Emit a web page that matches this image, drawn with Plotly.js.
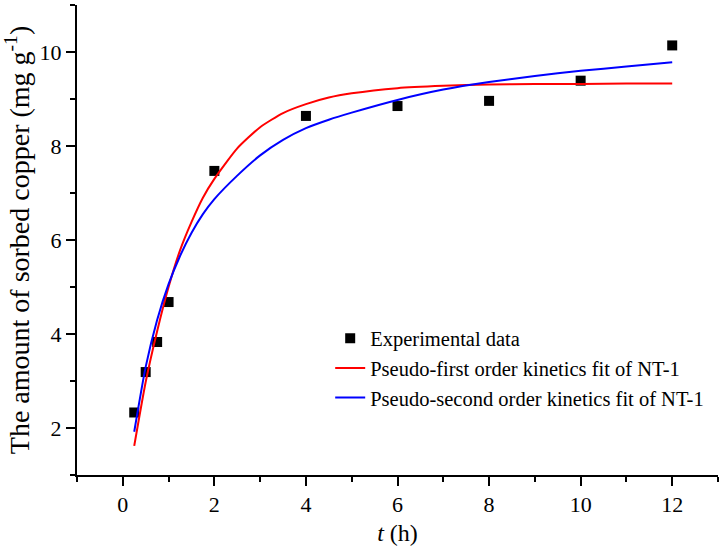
<!DOCTYPE html>
<html>
<head>
<meta charset="utf-8">
<script src="https://cdn.plot.ly/plotly-3.0.1.min.js"></script>
<style>
    html, body { margin: 0; padding: 0; background: #fff; }
    #chart { width: 721px; height: 550px; }
</style>
</head>
<body>
<div id="chart"></div>
<script>
// experimental points
const timeExp = [0.25, 0.5, 0.75, 1, 2, 4, 6, 8, 10, 12];
const qExp = [2.33, 3.19, 3.83, 4.68, 7.47, 8.64, 8.85, 8.96, 9.39, 10.14];

// pseudo-first order fit curve
const timeFirst = [0.25, 0.5, 0.75, 1.0, 1.25, 1.5, 1.75, 2.0, 2.5, 3.0, 3.5, 4.0, 4.5, 5.0, 6.0, 7.0, 8.0, 9.0, 10.0, 11.0, 12.0];
const qFirst = [1.62, 2.98, 4.06, 5.0, 5.78, 6.38, 6.9, 7.3, 7.95, 8.4, 8.7, 8.89, 9.03, 9.12, 9.23, 9.28, 9.31, 9.32, 9.32, 9.33, 9.33];

// pseudo-second order fit curve
const timeSecond = [0.25, 0.5, 0.75, 1.0, 1.25, 1.5, 1.75, 2.0, 2.5, 3.0, 3.5, 4.0, 4.5, 5.0, 6.0, 7.0, 8.0, 9.0, 10.0, 11.0, 12.0];
const qSecond = [1.92, 3.3, 4.3, 5.06, 5.66, 6.15, 6.55, 6.87, 7.37, 7.8, 8.13, 8.38, 8.56, 8.71, 8.98, 9.2, 9.36, 9.49, 9.6, 9.69, 9.78];

const xTicks = [0, 2, 4, 6, 8, 10, 12];
const yTicks = [2, 4, 6, 8, 10];

const serif = 'Liberation Serif, Times New Roman, serif';

const traceExp = {
    x: timeExp,
    y: qExp,
    mode: 'markers',
    name: 'Experimental data',
    marker: {symbol: 'square', size: 10, color: 'black'}
};

const traceFirst = {
    x: timeFirst,
    y: qFirst,
    mode: 'lines',
    name: 'Pseudo-first order kinetics fit of NT-1',
    line: {color: '#ff0000', width: 2, shape: 'spline', smoothing: 0.6}
};

const traceSecond = {
    x: timeSecond,
    y: qSecond,
    mode: 'lines',
    name: 'Pseudo-second order kinetics fit of NT-1',
    line: {color: '#0000ff', width: 2, shape: 'spline', smoothing: 0.6}
};

const layout = {
    width: 721,
    height: 550,
    margin: {l: 77, r: 3, t: 5, b: 75},
    paper_bgcolor: 'white',
    plot_bgcolor: 'white',
    font: {family: serif, size: 21, color: 'black'},
    showlegend: true,
    xaxis: {
        range: [-1, 13],
        tickvals: xTicks,
        ticks: 'outside',
        ticklen: 9,
        tickwidth: 2,
        tickcolor: 'black',
        showline: true,
        linecolor: 'black',
        linewidth: 2,
        showgrid: false,
        zeroline: false,
        minor: {dtick: 1, tick0: -1, ticks: 'outside', ticklen: 5, tickwidth: 2, tickcolor: 'black', showgrid: false},
        tickfont: {family: serif, size: 22},
        title: {text: '<i>t</i> (h)', font: {family: serif, size: 24}, standoff: 8}
    },
    yaxis: {
        range: [1, 11],
        tickvals: yTicks,
        ticks: 'outside',
        ticklen: 9,
        tickwidth: 2,
        tickcolor: 'black',
        showline: true,
        linecolor: 'black',
        linewidth: 2,
        showgrid: false,
        zeroline: false,
        minor: {dtick: 1, tick0: 1, ticks: 'outside', ticklen: 5, tickwidth: 2, tickcolor: 'black', showgrid: false},
        tickfont: {family: serif, size: 22},
        title: {text: 'The amount of sorbed copper (mg g<sup>-1</sup>)', font: {family: serif, size: 28}, standoff: 4}
    },
    legend: {
        x: 0.395,
        y: 0.333,
        xanchor: 'left',
        yanchor: 'top',
        bgcolor: 'rgba(0,0,0,0)',
        font: {family: serif, size: 20.5, color: 'black'},
        tracegroupgap: 0
    }
};

Plotly.newPlot('chart', [traceExp, traceFirst, traceSecond], layout, {displayModeBar: false});
</script>
</body>
</html>
